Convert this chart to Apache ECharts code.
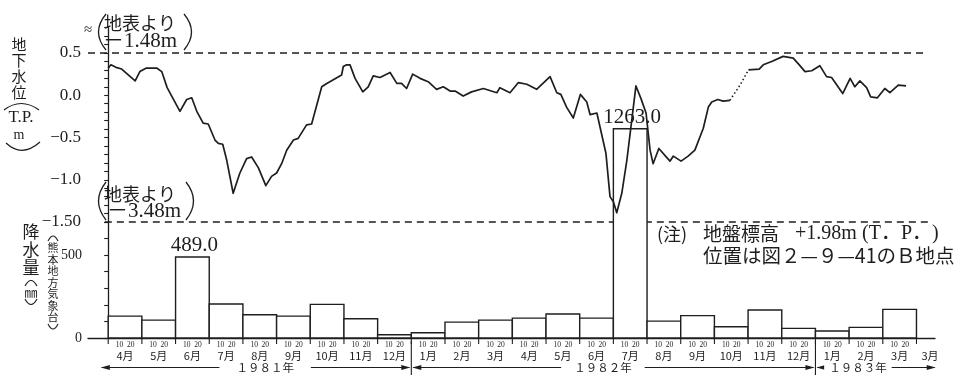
<!DOCTYPE html>
<html>
<head>
<meta charset="utf-8">
<script src="https://cdn.jsdelivr.net/npm/echarts@6/dist/echarts.min.js"></script>
<style>
  html, body { margin: 0; padding: 0; background: #fff; }
  #chart { width: 971px; height: 375px; }
</style>
</head>
<body>
<div id="chart"></div>
<script>
// ---- data ---------------------------------------------------------------
// Monthly rainfall (mm), April 1981 – March 1983 (熊本地方気象台)
const monthLabels = ['4月','5月','6月','7月','8月','9月','10月','11月','12月',
  '1月','2月','3月','4月','5月','6月','7月','8月','9月','10月','11月','12月',
  '1月','2月','3月'];
const rainfall = [132, 108, 489.0, 205, 140, 132, 203, 116, 20,
  32, 96, 108, 120, 145, 120, 1263.0, 102, 135, 68, 169, 58,
  42, 64, 173];
const endLabel = '3月';
const endLabelAt = 24.4;
const dayTicks = ['10', '20'];

// Year spans along the time axis (months since 1 April 1981)
const years = ['１９８１年', '１９８２年', '１９８３年'];
const yearStart = [-0.25, 9, 21];
const yearEnd = [9, 21, 24.6];
const yearMid = [4.66, 14.69, 22.26];

// Groundwater level (m, T.P.) against months since 1 April 1981
const levelA = [
  [0.00,0.32],[0.08,0.36],[0.23,0.33],[0.40,0.31],[0.80,0.17],[0.94,0.28],[1.12,0.32],[1.45,0.32],[1.59,0.28],[1.75,0.09],
  [2.13,-0.19],[2.33,-0.05],[2.48,-0.03],[2.63,-0.19],[2.82,-0.33],[2.97,-0.34],[3.17,-0.53],[3.27,-0.57],[3.40,-0.58],[3.52,-0.77],
  [3.71,-1.16],[3.91,-0.92],[4.11,-0.75],[4.26,-0.73],[4.46,-0.86],[4.68,-1.07],[4.85,-0.96],[5.00,-0.92],[5.15,-0.81],[5.30,-0.65],
  [5.50,-0.53],[5.64,-0.51],[5.89,-0.35],[6.04,-0.34],[6.34,0.10],[6.49,0.14],[6.93,0.24],[6.98,0.34],[7.08,0.36],[7.18,0.36],
  [7.33,0.20],[7.56,0.04],[7.72,0.10],[7.87,0.23],[8.07,0.21],[8.37,0.27],[8.57,0.14],[8.71,0.14],[8.86,0.08],[9.04,0.25],
  [9.26,0.20],[9.50,0.16],[9.75,0.07],[9.95,0.10],[10.15,0.05],[10.30,0.05],[10.54,-0.01],[10.79,0.04],[11.14,0.08],[11.54,0.03],
  [11.63,0.09],[11.93,0.03],[12.18,0.15],[12.43,0.13],[12.72,0.07],[13.12,0.22],[13.32,0.03],[13.44,0.01],[13.61,-0.14],[13.81,-0.27],
  [14.02,0.01],[14.21,-0.08],[14.31,-0.23],[14.51,-0.21],[14.78,-0.69],[14.90,-1.20],[15.00,-1.26],[15.10,-1.39],[15.25,-1.16],[15.40,-0.77],
  [15.67,0.11],[15.82,-0.04],[15.97,-0.21],[16.09,-0.65],[16.18,-0.81],[16.35,-0.63],[16.68,-0.78],[16.78,-0.72],[17.01,-0.78],[17.22,-0.72],
  [17.42,-0.65],[17.67,-0.39],[17.82,-0.14],[17.92,-0.08],[18.10,-0.05],[18.26,-0.07],[18.46,-0.06]
];
// stretch without readings, drawn dotted
const levelGap = [[18.76,0.12]];
const levelB = [
  [19.01,0.30],[19.33,0.31],[19.45,0.36],[19.70,0.40],[20.04,0.46],[20.34,0.44],[20.52,0.36],[20.69,0.28],[20.89,0.29],[21.13,0.35],
  [21.33,0.22],[21.48,0.21],[21.81,0.02],[22.03,0.20],[22.17,0.10],[22.32,0.17],[22.52,0.09],[22.64,-0.02],[22.84,-0.03],[23.06,0.08],
  [23.21,0.03],[23.46,0.12],[23.69,0.11]
];

// Ground surface reference levels (地表より −1.48 m / −3.48 m) and their extents
const refLevels = [0.5, -1.5];
const refFrom = [-0.6, -0.1];
const refTo = [24.34, 24.4];

// Axis tick labels
const levelTicks = [-1.5, -1.0, -0.5, 0.0, 0.5];
const levelTickLabels = ['−1.50', '−1.0', '−0.5', '0.0', '0.5'];
const rainTicks = [0, 500];
const rainTickLabels = ['0', '500'];
const labelledRainMin = 400;   // months whose total is printed above the bar

// ---- styling -------------------------------------------------------------
const INK = '#1e1e1e';
const SERIF = "'Liberation Serif', 'DejaVu Serif', serif";
const JP = "'Noto Sans CJK JP', sans-serif";
const MIX = "'Liberation Serif', 'Noto Sans CJK JP', serif";
const yearGap = [17, 13, 5];

function pickLabel(ticks, labels) {
  return function (v) {
    for (let i = 0; i < ticks.length; i++) {
      if (Math.abs(ticks[i] - v) < 1e-6) return labels[i];
    }
    return '';
  };
}

const chart = echarts.init(document.getElementById('chart'), null, { renderer: 'canvas' });

const axisLineStyle = { color: INK, width: 1.3 };

const option = {
  animation: false,
  backgroundColor: '#fff',
  grid: [
    { left: 88, right: 36, top: 27.65, height: 194.35 },
    { left: 88, right: 36, top: 222, height: 116 }
  ],
  xAxis: [
    { type: 'value', gridIndex: 0, min: -0.6, max: 24.55, show: false },
    {
      type: 'value', gridIndex: 1, min: -0.6, max: 24.55,
      axisLine: { show: true, onZero: false, lineStyle: axisLineStyle },
      axisTick: { show: false }, axisLabel: { show: false }, splitLine: { show: false }
    }
  ],
  yAxis: [
    {
      type: 'value', gridIndex: 0, min: -1.5, max: 0.8, interval: 0.1,
      axisLine: { show: true, lineStyle: axisLineStyle },
      axisTick: { show: true, length: 4, lineStyle: { color: INK, width: 1.1 } },
      axisLabel: {
        formatter: pickLabel(levelTicks, levelTickLabels), margin: 7,
        fontFamily: SERIF, fontSize: 17, color: INK,
        showMinLabel: true, showMaxLabel: true
      },
      splitLine: { show: false }
    },
    {
      type: 'value', gridIndex: 1, min: 0, max: 700, interval: 100,
      axisLine: { show: true, lineStyle: axisLineStyle },
      axisTick: { show: true, length: 4, lineStyle: { color: INK, width: 1.1 } },
      axisLabel: {
        formatter: pickLabel(rainTicks, rainTickLabels), margin: 6,
        fontFamily: SERIF, fontSize: 14, color: INK
      },
      splitLine: { show: false }
    }
  ],
  series: [
    // dashed ground-surface reference lines
    ...refLevels.map((lvl, k) => ({
      type: 'line', xAxisIndex: 0, yAxisIndex: 0, z: 1, silent: true, clip: false,
      symbol: 'none',
      data: [[refFrom[k], lvl], [refTo[k], lvl]],
      lineStyle: { color: INK, width: 1.3, type: [7, 5] }
    })),
    // monthly rainfall blocks
    {
      type: 'custom', xAxisIndex: 1, yAxisIndex: 1, z: 10, clip: false, silent: true,
      data: rainfall.map((v, i) => [i, v]),
      renderItem(params, api) {
        const i = api.value(0), v = api.value(1);
        const p0 = api.coord([i, 0]);
        const p1 = api.coord([i + 1, v]);
        const kids = [{
          type: 'rect',
          shape: { x: p0[0], y: p1[1], width: p1[0] - p0[0], height: p0[1] - p1[1] },
          style: { fill: '#fff', stroke: INK, lineWidth: 1.4 }
        }];
        if (v >= labelledRainMin) {
          kids.push({
            type: 'text',
            style: {
              text: v.toFixed(1), x: (p0[0] + p1[0]) / 2 + 2, y: p1[1] - 1,
              align: 'center', verticalAlign: 'bottom',
              font: `21px ${SERIF}`, fill: INK
            }
          });
        }
        return { type: 'group', children: kids };
      }
    },
    // month ticks and labels below the time axis
    {
      type: 'custom', xAxisIndex: 1, yAxisIndex: 1, z: 5, clip: false, silent: true,
      data: monthLabels.map((m, i) => [i, 0]),
      renderItem(params, api) {
        const i = api.value(0);
        const p0 = api.coord([i, 0]);
        const x1 = api.coord([i + 1, 0])[0];
        const w = x1 - p0[0];
        const y0 = p0[1];
        const tick = (x) => ({ type: 'line', shape: { x1: x, y1: y0, x2: x, y2: y0 + 6 },
          style: { stroke: INK, lineWidth: 1.1 } });
        const kids = [tick(p0[0])];
        dayTicks.forEach((d) => {
          kids.push({
            type: 'text',
            style: {
              text: d, x: p0[0] + w * (+d) / 30, y: y0 + 7.5,
              align: 'center', verticalAlign: 'middle', font: `7.5px ${SERIF}`, fill: INK
            }
          });
        });
        kids.push({
          type: 'text',
          style: {
            text: monthLabels[i], x: p0[0] + w / 2, y: y0 + 18,
            align: 'center', verticalAlign: 'middle', font: `11px ${JP}`, fill: INK
          }
        });
        if (i === monthLabels.length - 1) {
          kids.push(tick(x1));
          kids.push({
            type: 'text',
            style: {
              text: endLabel, x: api.coord([endLabelAt, 0])[0], y: y0 + 18,
              align: 'center', verticalAlign: 'middle', font: `11px ${JP}`, fill: INK
            }
          });
        }
        return { type: 'group', children: kids };
      }
    },
    // year spans with arrows
    {
      type: 'custom', xAxisIndex: 1, yAxisIndex: 1, z: 5, clip: false, silent: true,
      data: years.map((y, k) => [k, 0]),
      renderItem(params, api) {
        const k = params.dataIndex;
        const y0 = api.coord([0, 0])[1];
        const xs = api.coord([yearStart[k], 0])[0];
        const xe = api.coord([yearEnd[k], 0])[0];
        const xm = api.coord([yearMid[k], 0])[0];
        const y = y0 + 29.5;
        const kids = [
          { type: 'line', shape: { x1: xs + 2, y1: y, x2: xe - 2, y2: y }, style: { stroke: INK, lineWidth: 1 } },
          { type: 'polygon', shape: { points: [[xs + 1, y], [xs + 10, y - 2.6], [xs + 10, y + 2.6]] }, style: { fill: INK } },
          { type: 'polygon', shape: { points: [[xe - 1, y], [xe - 10, y - 2.6], [xe - 10, y + 2.6]] }, style: { fill: INK } },
          {
            type: 'text',
            style: {
              text: years[k], x: xm, y: y, align: 'center', verticalAlign: 'middle',
              font: `11.5px ${JP}`, fill: INK, backgroundColor: '#fff', padding: [0, yearGap[k]]
            }
          }
        ];
        if (k > 0) {
          kids.push({ type: 'line', shape: { x1: xs, y1: y0 + 3, x2: xs, y2: y0 + 38 },
            style: { stroke: INK, lineWidth: 1.1 } });
        }
        return { type: 'group', children: kids };
      }
    },
    // groundwater level
    {
      type: 'line', xAxisIndex: 0, yAxisIndex: 0, z: 20, silent: true, symbol: 'none',
      data: levelA, lineStyle: { color: INK, width: 1.7, join: 'round' }
    },
    {
      type: 'line', xAxisIndex: 0, yAxisIndex: 0, z: 20, silent: true, symbol: 'none',
      data: [levelA[levelA.length - 1], ...levelGap, levelB[0]],
      lineStyle: { color: INK, width: 1.6, type: [1.5, 2.5] }
    },
    {
      type: 'line', xAxisIndex: 0, yAxisIndex: 0, z: 20, silent: true, symbol: 'none',
      data: levelB, lineStyle: { color: INK, width: 1.7, join: 'round' }
    }
  ],
  graphic: [
    // axis break mark
    { type: 'text', x: 88, y: 30, style: { text: '≈', font: `15px ${SERIF}`, fill: INK, align: 'center', verticalAlign: 'middle' } },

    // (地表より −1.48m)
    { type: 'bezierCurve', shape: { x1: 106, y1: 14, cpx1: 91, cpy1: 32, x2: 106, y2: 50 }, style: { stroke: INK, lineWidth: 1.3, fill: 'none' } },
    { type: 'text', x: 104, y: 23, style: { text: '地表より', font: `18px ${JP}`, fill: INK, align: 'left', verticalAlign: 'middle' } },
    { type: 'text', x: 103, y: 41, style: { text: '－1.48m', font: `21px ${MIX}`, fill: INK, align: 'left', verticalAlign: 'middle' } },
    { type: 'bezierCurve', shape: { x1: 184, y1: 14, cpx1: 199, cpy1: 32, x2: 184, y2: 50 }, style: { stroke: INK, lineWidth: 1.3, fill: 'none' } },

    // (地表より −3.48m)
    { type: 'bezierCurve', shape: { x1: 106, y1: 182, cpx1: 91, cpy1: 201, x2: 106, y2: 220 }, style: { stroke: INK, lineWidth: 1.3, fill: 'none' } },
    { type: 'text', x: 104, y: 194, style: { text: '地表より', font: `18px ${JP}`, fill: INK, align: 'left', verticalAlign: 'middle' } },
    { type: 'text', x: 107, y: 211, style: { text: '－3.48m', font: `21px ${MIX}`, fill: INK, align: 'left', verticalAlign: 'middle' } },
    { type: 'bezierCurve', shape: { x1: 186, y1: 182, cpx1: 201, cpy1: 201, x2: 186, y2: 220 }, style: { stroke: INK, lineWidth: 1.3, fill: 'none' } },

    // 地下水位 (T.P. m)
    { type: 'text', x: 19, y: 68, style: { text: '地\n下\n水\n位', font: `15px ${JP}`, lineHeight: 16, fill: INK, align: 'center', verticalAlign: 'middle' } },
    { type: 'bezierCurve', shape: { x1: 4, y1: 110, cpx1: 21, cpy1: 97, x2: 39, y2: 110 }, style: { stroke: INK, lineWidth: 1.2, fill: 'none' } },
    { type: 'text', x: 21, y: 118, style: { text: 'T.P.', font: `17px ${SERIF}`, fill: INK, align: 'center', verticalAlign: 'middle' } },
    { type: 'text', x: 19, y: 135, style: { text: 'm', font: `14px ${SERIF}`, fill: INK, align: 'center', verticalAlign: 'middle' } },
    { type: 'bezierCurve', shape: { x1: 6, y1: 143, cpx1: 22, cpy1: 158, x2: 40, y2: 142 }, style: { stroke: INK, lineWidth: 1.2, fill: 'none' } },

    // 降水量 (㎜)
    { type: 'text', x: 31, y: 250, style: { text: '降\n水\n量', font: `17px ${JP}`, lineHeight: 18, fill: INK, align: 'center', verticalAlign: 'middle' } },
    { type: 'bezierCurve', shape: { x1: 25, y1: 286, cpx1: 31, cpy1: 275, x2: 37, y2: 286 }, style: { stroke: INK, lineWidth: 1.2, fill: 'none' } },
    { type: 'text', x: 31, y: 292.5, style: { text: '㎜', font: `13px ${JP}`, fill: INK, align: 'center', verticalAlign: 'middle' } },
    { type: 'bezierCurve', shape: { x1: 25, y1: 299, cpx1: 31, cpy1: 310, x2: 37, y2: 299 }, style: { stroke: INK, lineWidth: 1.2, fill: 'none' } },

    // (熊本地方気象台)
    { type: 'bezierCurve', shape: { x1: 48, y1: 241, cpx1: 53, cpy1: 231, x2: 58, y2: 241 }, style: { stroke: INK, lineWidth: 1.1, fill: 'none' } },
    { type: 'text', x: 53, y: 282.5, style: { text: '熊\n本\n地\n方\n気\n象\n台', font: `11px ${JP}`, lineHeight: 11.5, fill: INK, align: 'center', verticalAlign: 'middle' } },
    { type: 'bezierCurve', shape: { x1: 48, y1: 324, cpx1: 53, cpy1: 334, x2: 58, y2: 324 }, style: { stroke: INK, lineWidth: 1.1, fill: 'none' } },

    // note
    { type: 'text', x: 657, y: 234, style: { text: '(注)', font: `18px ${JP}`, fill: INK, align: 'left', verticalAlign: 'middle' } },
    { type: 'text', x: 703, y: 234, style: { text: '地盤標高', font: `19px ${JP}`, fill: INK, align: 'left', verticalAlign: 'middle' } },
    { type: 'text', x: 795, y: 234, style: { text: '+1.98m', font: `20px ${SERIF}`, fill: INK, align: 'left', verticalAlign: 'middle' } },
    { type: 'text', x: 862, y: 234, style: { text: '(T．P．)', font: `20px ${MIX}`, fill: INK, align: 'left', verticalAlign: 'middle' } },
    { type: 'text', x: 703, y: 256, style: { text: '位置は図２—９—41のＢ地点', font: `19.5px ${JP}`, fill: INK, align: 'left', verticalAlign: 'middle' } }
  ]
};

chart.setOption(option);
</script>
</body>
</html>
